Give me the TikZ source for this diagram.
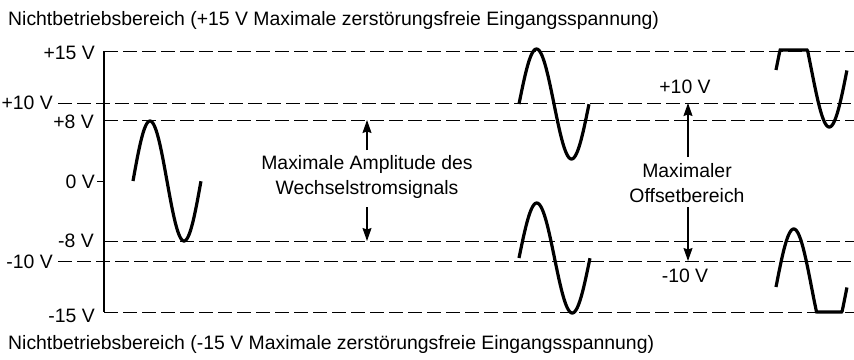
\documentclass[tikz,border=0pt]{standalone}
\usepackage{fontspec}
\setmainfont{Liberation Sans}
\usetikzlibrary{arrows.meta}
\begin{document}
\begin{tikzpicture}[x=1pt,y=-1pt,
  lbl/.style={font=\fontsize{19.4}{22}\selectfont, inner sep=0pt},
  dashln/.style={line width=1pt, dash pattern=on 14pt off 5pt},
  wave/.style={line width=3.2pt},
  arr/.style={line width=1.2pt, -{Stealth[length=13pt,width=9pt,inset=1.5pt]}}]
\useasboundingbox (0,0) rectangle (854,359);
% titles
\node[lbl, anchor=west] (top) at (8,20) {Nichtbetriebsbereich (+15 V Maximale zerstörungsfreie Eingangsspannung)};
\node[lbl, anchor=west] (bot) at (8,344) {Nichtbetriebsbereich (-15 V Maximale zerstörungsfreie Eingangsspannung)};
% axis labels
\node[lbl, anchor=east] (p15) at (95,53) {+15 V};
\node[lbl, anchor=east] (p10) at (53,103) {+10 V};
\node[lbl, anchor=east] (p8)  at (94,122) {+8 V};
\node[lbl, anchor=east] (z0)  at (95,182) {0 V};
\node[lbl, anchor=east] (m8)  at (94,241) {-8 V};
\node[lbl, anchor=east] (m10) at (53,262) {-10 V};
\node[lbl, anchor=east] (m15) at (95,316) {-15 V};
% axis
\draw[line width=1.2pt] (104,51) -- (104,312);
\draw[line width=1pt] (97,181) -- (104,181);
% dashed levels
\draw[dashln] (104,51) -- (854,51);
\draw[dashln] (58,103) -- (854,103);
\draw[dashln] (104,120) -- (854,120);
\draw[dashln] (104,241) -- (854,241);
\draw[dashln] (58,261) -- (854,261);
\draw[dashln] (104,312) -- (854,312);
% waves
\draw[wave] plot[domain=0:1, samples=80] ({133+68*\x},{181-60*sin(360*\x)});
\draw[wave] plot[domain=0:1, samples=80] ({519+70*\x},{104-55*sin(360*\x)});
\draw[wave] plot[domain=0:1, samples=80] ({519+71*\x},{258-55*sin(360*\x)});
\draw[wave] plot[domain=0:1, samples=120] ({776+71*\x},{max(50,70-57*sin(360*\x))});
\draw[wave] plot[domain=0:1, samples=120] ({776+71*\x},{min(312,287-58*sin(360*\x))});
% amplitude labels
\node[lbl, align=center] (amp) at (367,177) {Maximale Amplitude des\\[3pt]Wechselstromsignals};
\coordinate (ampTop) at (367,120);
\coordinate (ampBot) at (367,241);
\draw[arr] (367,150) -- (ampTop);
\draw[arr] (367,207) -- (ampBot);
% offset labels
\node[lbl, align=center] (off) at (687,183) {Maximaler\\[3pt]Offsetbereich};
\node[lbl] (op10) at (685,87) {+10 V};
\node[lbl] (om10) at (685,276) {-10 V};
\coordinate (offTop) at (688,103);
\coordinate (offBot) at (688,261);
\draw[arr] (688,157) -- (offTop);
\draw[arr] (688,207) -- (offBot);
\end{tikzpicture}
\end{document}
